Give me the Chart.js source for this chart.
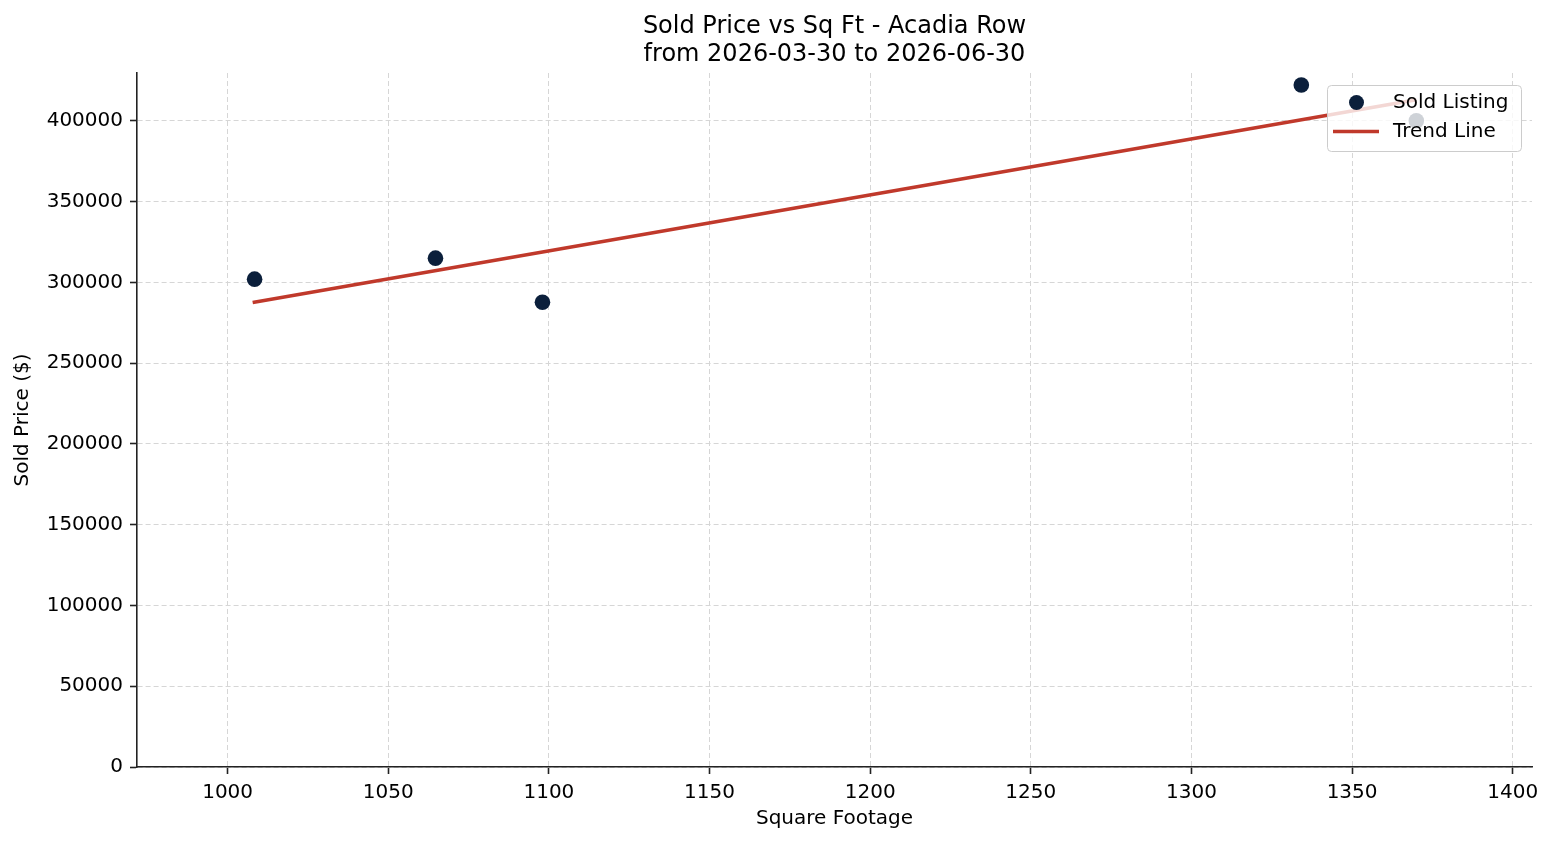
<!DOCTYPE html>
<html>
<head>
<meta charset="utf-8">
<title>Sold Price vs Sq Ft - Acadia Row</title>
<script src="https://cdn.jsdelivr.net/npm/chart.js@4.4.1/dist/chart.umd.min.js"></script>
<style>
  html, body { margin: 0; padding: 0; background: #fff; }
  canvas { display: block; }
</style>
</head>
<body>
<canvas id="chart" width="1554" height="845"></canvas>
<script>
const titleLines = ["Sold Price vs Sq Ft - Acadia Row", "from 2026-03-30 to 2026-06-30"];

// sold listings
const sqFt = [1008.4, 1064.7, 1098, 1334.2, 1370];
const soldPrice = [302000, 315000, 287700, 422200, 400100];

// trend line end points
const trendSqFt = [1007.8, 1370];
const trendPrice = [287500, 413100];

const xTicks = [1000, 1050, 1100, 1150, 1200, 1250, 1300, 1350, 1400];
const yTicks = [0, 50000, 100000, 150000, 200000, 250000, 300000, 350000, 400000];

const FONT = "'DejaVu Sans', sans-serif";
const navy = "#0b1f3b";
const red = "#c0392b";

const toXY = (xs, ys) => xs.map((x, i) => ({ x: x, y: ys[i] }));

const titlePlugin = {
  id: "twoLineTitle",
  afterDraw(chart) {
    const ctx = chart.ctx;
    const a = chart.chartArea;
    const cx = (a.left + a.right) / 2;
    ctx.save();
    ctx.fillStyle = "#000";
    ctx.font = "24px " + FONT;
    ctx.textAlign = "center";
    ctx.textBaseline = "middle";
    ctx.fillText(titleLines[0], cx, 27);
    ctx.fillText(titleLines[1], cx, 55);
    ctx.restore();
  }
};

const legendPlugin = {
  id: "boxLegend",
  afterDraw(chart) {
    const ctx = chart.ctx;
    const ds = chart.data.datasets;
    ctx.save();
    ctx.beginPath();
    ctx.roundRect(1327.5, 85.5, 194, 66, 4);
    ctx.fillStyle = "rgba(255,255,255,0.8)";
    ctx.fill();
    ctx.strokeStyle = "#cccccc";
    ctx.lineWidth = 1;
    ctx.stroke();

    ctx.beginPath();
    ctx.arc(1356.5, 102.5, 7.5, 0, Math.PI * 2);
    ctx.fillStyle = ds[0].backgroundColor;
    ctx.fill();

    ctx.beginPath();
    ctx.moveTo(1333, 131.5);
    ctx.lineTo(1379, 131.5);
    ctx.strokeStyle = ds[1].borderColor;
    ctx.lineWidth = 3.5;
    ctx.stroke();

    ctx.fillStyle = "#000";
    ctx.font = "20px " + FONT;
    ctx.textAlign = "left";
    ctx.textBaseline = "middle";
    ctx.fillText(ds[0].label, 1393, 103);
    ctx.fillText(ds[1].label, 1393, 132);
    ctx.restore();
  }
};

const axisCommon = {
  type: "linear",
  grid: {
    color: "#d6d6d6",
    lineWidth: 1,
    tickLength: 7,
    tickColor: "#222",
    tickWidth: 1.6,
    tickBorderDash: []
  },
  border: { display: true, color: "#222", width: 1.6, dash: [5, 3] }
};

new Chart(document.getElementById("chart"), {
  type: "scatter",
  data: {
    datasets: [
      {
        label: "Sold Listing",
        data: toXY(sqFt, soldPrice),
        backgroundColor: navy,
        borderWidth: 0,
        pointRadius: 7.8,
        pointHoverRadius: 7.8
      },
      {
        type: "line",
        label: "Trend Line",
        data: toXY(trendSqFt, trendPrice),
        borderColor: red,
        borderWidth: 3.5,
        pointRadius: 0,
        fill: false,
        showLine: true
      }
    ]
  },
  options: {
    responsive: false,
    animation: false,
    layout: { padding: { top: 73, right: 22, bottom: 0, left: 0 } },
    plugins: {
      legend: { display: false },
      title: { display: false },
      tooltip: { enabled: false }
    },
    scales: {
      x: {
        ...axisCommon,
        min: 971.8,
        max: 1406,
        afterBuildTicks: s => { s.ticks = xTicks.map(v => ({ value: v })); },
        afterFit: s => { s.height = 78; },
        ticks: {
          color: "#000",
          font: { family: FONT, size: 20 },
          padding: 7,
          maxRotation: 0,
          callback: v => String(v)
        },
        title: {
          display: true,
          text: "Square Footage",
          color: "#000",
          font: { family: FONT, size: 20 },
          padding: { top: 0, bottom: 14 }
        }
      },
      y: {
        ...axisCommon,
        min: 0,
        max: 429630,
        afterBuildTicks: s => { s.ticks = yTicks.map(v => ({ value: v })); },
        afterFit: s => { s.width = 137; },
        ticks: {
          color: "#000",
          font: { family: FONT, size: 20 },
          padding: 7,
          callback: v => String(v)
        },
        title: {
          display: true,
          text: "Sold Price ($)",
          color: "#000",
          font: { family: FONT, size: 20 },
          padding: { top: 11, bottom: 0 }
        }
      }
    }
  },
  plugins: [titlePlugin, legendPlugin]
});
</script>
</body>
</html>
